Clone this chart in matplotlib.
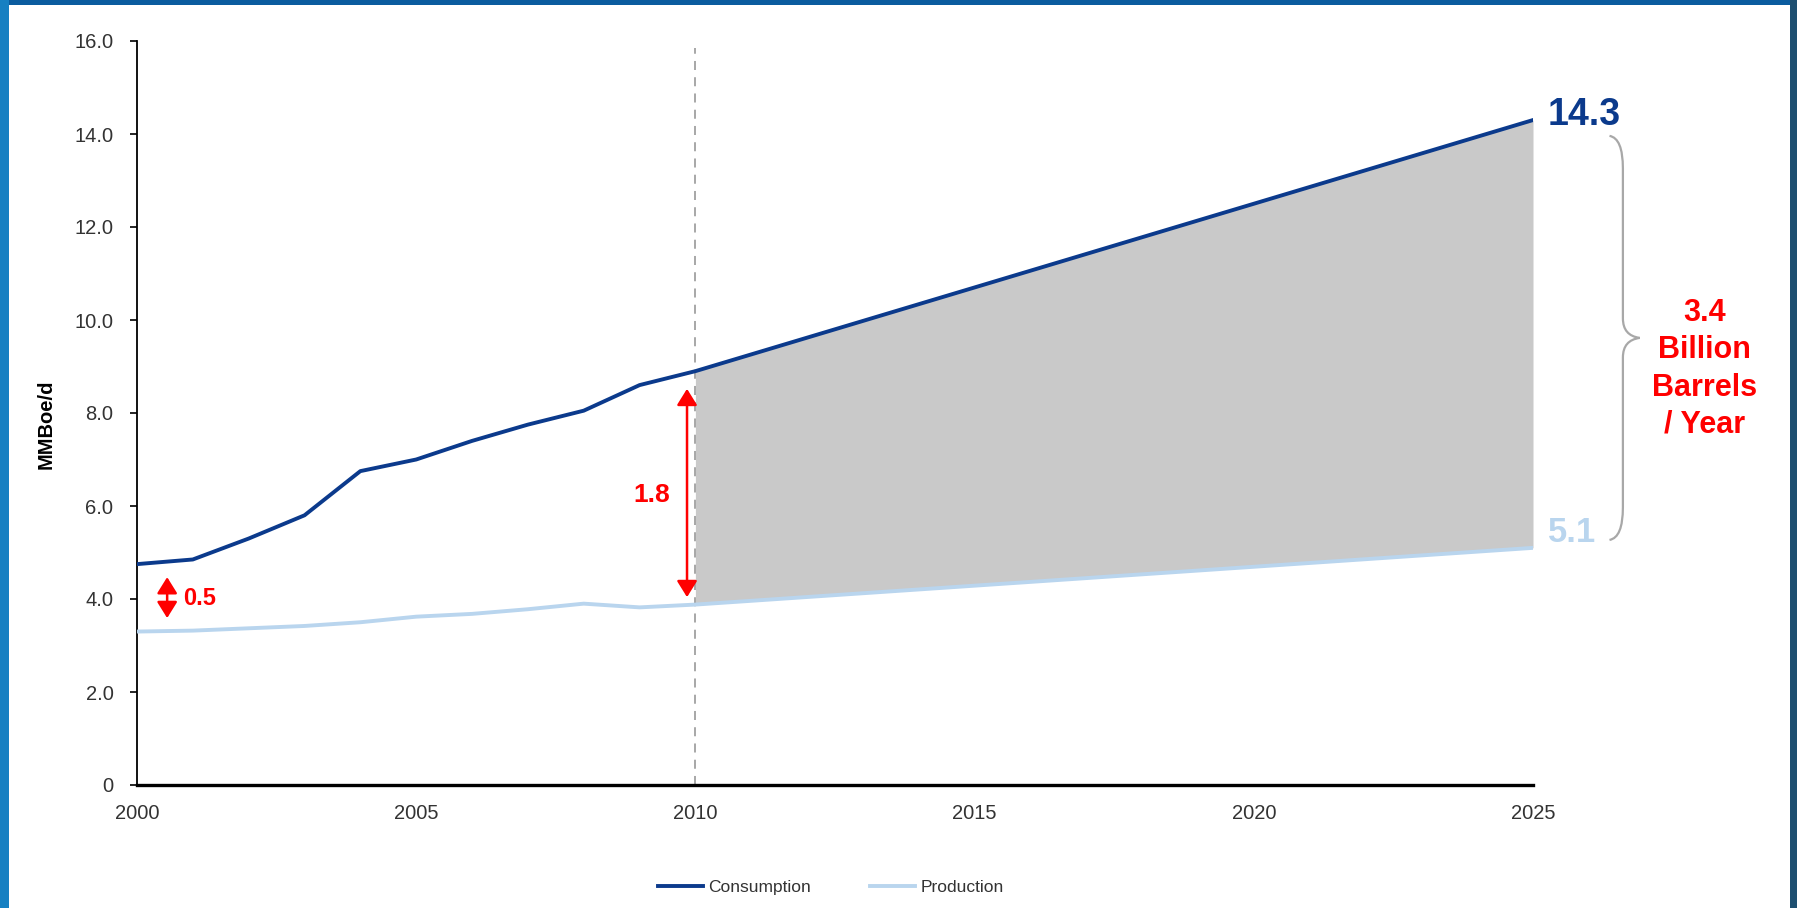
import matplotlib.pyplot as plt
from matplotlib.patches import Rectangle, PathPatch
from matplotlib.path import Path

plt.rcParams['font.family'] = ['Liberation Sans', 'DejaVu Sans']

# historical + forecast (MMBoe/d)
years = [2000, 2001, 2002, 2003, 2004, 2005, 2006, 2007, 2008, 2009, 2010, 2025]
consumption = [4.75, 4.85, 5.3, 5.8, 6.75, 7.0, 7.4, 7.75, 8.05, 8.6, 8.9, 14.3]
production = [3.3, 3.32, 3.37, 3.42, 3.5, 3.62, 3.68, 3.78, 3.9, 3.82, 3.88, 5.1]

fc_years = [2010, 2025]
fc_consumption = [8.9, 14.3]
fc_production = [3.88, 5.1]

gap_labels = ['0.5', '1.8']
gap_text = '3.4\nBillion\nBarrels\n/ Year'

y_ticks = [0, 2, 4, 6, 8, 10, 12, 14, 16]
x_ticks = [2000, 2005, 2010, 2015, 2020, 2025]

navy = '#0b3a8c'
light = '#b9d5ee'

fig = plt.figure(figsize=(17.97, 9.08), dpi=100)
fig.patch.set_facecolor('#0b5c9f')
# slide frame
fig.patches.append(Rectangle((0, 0), 9 / 1797, 1, transform=fig.transFigure,
                             facecolor='#1680c2', edgecolor='none', zorder=-3))
fig.patches.append(Rectangle((1790 / 1797, 0), 7 / 1797, 1, transform=fig.transFigure,
                             facecolor='#1e4f70', edgecolor='none', zorder=-3))
fig.patches.append(Rectangle((9 / 1797, 0), 1781 / 1797, 903 / 908, transform=fig.transFigure,
                             facecolor='white', edgecolor='none', zorder=-3))

ax = fig.add_axes([137 / 1797, 123 / 908, 1396 / 1797, 744 / 908])
ax.set_facecolor('none')

ax.fill_between(fc_years, fc_production, fc_consumption, color='#c9c9c9', linewidth=0, zorder=1)
ax.plot(years, consumption, color=navy, lw=2.8, label='Consumption', zorder=3)
ax.plot(years, production, color=light, lw=2.8, label='Production', zorder=3)
ax.plot([2010, 2010], [0, 15.85], color='#a0a0a0', lw=1.3, ls=(0, (5, 4)), zorder=2)

ax.set_xlim(2000, 2025)
ax.set_ylim(0, 16)
ax.set_xticks(x_ticks)
ax.set_yticks(y_ticks)
ax.set_yticklabels(['0' if v == 0 else f'{v:.1f}' for v in y_ticks])
ax.tick_params(axis='x', length=0, pad=14, labelsize=14.5, labelcolor='#333333')
ax.tick_params(axis='y', length=5, width=1.2, pad=12, labelsize=14.5, labelcolor='#333333')
for s in ['top', 'right']:
    ax.spines[s].set_visible(False)
ax.spines['left'].set_linewidth(1.3)
ax.spines['bottom'].set_linewidth(2.4)
ax.spines['bottom'].set_zorder(4)

ax.set_ylabel('MMBoe/d', fontsize=14.5, fontweight='bold')
ax.yaxis.set_label_coords(-0.058, 0.485)

# gap arrows
arr = dict(arrowstyle='<|-|>,head_length=0.45,head_width=0.28', color='red', lw=1.8,
           mutation_scale=22, shrinkA=0, shrinkB=0)
ax.annotate('', xy=(2000.54, 3.59), xytext=(2000.54, 4.47), arrowprops=arr)
ax.text(2000.82, 4.02, gap_labels[0], color='red', fontsize=17, fontweight='bold', va='center')
ax.annotate('', xy=(2009.85, 4.04), xytext=(2009.85, 8.52), arrowprops=arr)
ax.text(2009.22, 6.24, gap_labels[1], color='red', fontsize=19, fontweight='bold',
        va='center', ha='center')

# end labels
ax.text(2025.27, 14.4, f'{consumption[-1]:.1f}', color=navy, fontsize=27, fontweight='bold',
        va='center', ha='left', clip_on=False)
ax.text(2025.27, 5.42, f'{production[-1]:.1f}', color=light, fontsize=25, fontweight='bold',
        va='center', ha='left', clip_on=False)

# curly brace
x0, x1, xt = 2026.37, 2026.61, 2026.91
yt, yb = 13.96, 5.27
ym = (yt + yb) / 2
r = 0.7
verts = [(x0, yt), (x1, yt - 0.05), (x1, yt - r),
         (x1, ym + r * 0.6),
         (x1, ym + 0.05), (xt, ym),
         (x1, ym - 0.05), (x1, ym - r * 0.6),
         (x1, yb + r),
         (x1, yb + 0.05), (x0, yb)]
codes = [Path.MOVETO, Path.CURVE3, Path.CURVE3, Path.LINETO, Path.CURVE3, Path.CURVE3,
         Path.CURVE3, Path.CURVE3, Path.LINETO, Path.CURVE3, Path.CURVE3]
ax.add_patch(PathPatch(Path(verts, codes), facecolor='none', edgecolor='#a8a8a8', lw=1.6,
                       clip_on=False))

ax.text(2028.07, 8.95, gap_text, color='red', fontsize=22, fontweight='bold', ha='center',
        va='center', linespacing=1.32, clip_on=False)

fig.legend(loc='center', bbox_to_anchor=(0.4624, 0.023), ncol=2, frameon=False,
           fontsize=12.5, handlelength=2.6, handletextpad=0.3, columnspacing=3.4,
           labelcolor='#333333')

fig.savefig('out.png', dpi=100, facecolor=fig.get_facecolor())
